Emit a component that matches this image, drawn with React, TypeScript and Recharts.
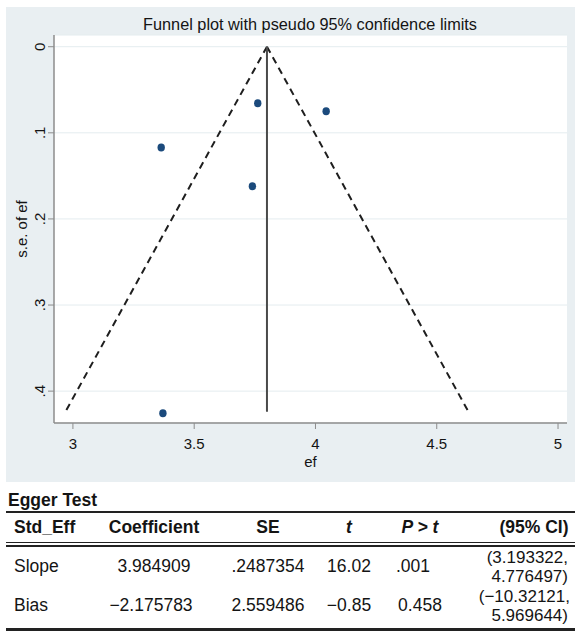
import React from 'react';
import { ScatterChart, Scatter, XAxis, YAxis, CartesianGrid, Label } from 'recharts';

// Study estimates (effect size and its standard error)
const studyEf = [3.762, 4.044, 3.364, 3.74, 3.371];
const studySe = [0.0657, 0.075, 0.117, 0.162, 0.4258];

// Pooled estimate and pseudo 95% confidence limits
const pooledEf = 3.8;
const funnelSe = [0, 0.424];
const funnelLeftEf = [3.8, 2.969];
const funnelRightEf = [3.8, 4.631];

// Axis ticks
const xTicks = [3, 3.5, 4, 4.5, 5];
const xTickLabels = ['3', '3.5', '4', '4.5', '5'];
const yTicks = [0, 0.1, 0.2, 0.3, 0.4];
const yTickLabels = ['0', '.1', '.2', '.3', '.4'];

// Egger test table
const tableTitle = 'Egger Test';
const tableHeaders = ['Std_Eff', 'Coefficient', 'SE', 't', 'P > t', '(95% CI)'];
const slopeRow = ['Slope', '3.984909', '.2487354', '16.02', '.001', '(3.193322,', '4.776497)'];
const biasRow = ['Bias', '\u22122.175783', '2.559486', '\u22120.85', '0.458', '(\u221210.32121,', '5.969644)'];

const points = studyEf.map((ef, i) => ({ ef, se: studySe[i] }));
const leftLine = funnelSe.map((se, i) => ({ ef: funnelLeftEf[i], se }));
const rightLine = funnelSe.map((se, i) => ({ ef: funnelRightEf[i], se }));
const midLine = funnelSe.map((se) => ({ ef: pooledEf, se }));

const FONT = '"Liberation Sans", Arial, Helvetica, sans-serif';
const TXT = '#141414';

const XTick = (props: any) => {
  const { x, payload } = props;
  const idx = xTicks.indexOf(payload.value);
  return (
    <text x={x} y={442} textAnchor="middle" fontSize={15} fontFamily={FONT} fill={TXT}>
      {idx >= 0 ? xTickLabels[idx] : String(payload.value)}
    </text>
  );
};

const YTick = (props: any) => {
  const { y, payload } = props;
  const idx = yTicks.findIndex((t) => Math.abs(t - payload.value) < 1e-9);
  return (
    <text
      x={0}
      y={0}
      transform={`translate(38.5,${y}) rotate(-90)`}
      textAnchor="middle"
      fontSize={15}
      fontFamily={FONT}
      fill={TXT}
    >
      {idx >= 0 ? yTickLabels[idx] : String(payload.value)}
    </text>
  );
};

const Dot = (props: any) => {
  const { cx, cy } = props;
  return <ellipse cx={cx} cy={cy} rx={3.7} ry={4} fill="#1B4A7C" />;
};

const NoShape = () => <g />;

const Cell = ({ x, y, text, align = 'center', bold = false, italic = false, size = 17.5 }: any) => {
  let transform = 'translateX(-50%)';
  if (align === 'left') transform = 'none';
  if (align === 'right') transform = 'translateX(-100%)';
  return (
    <div
      style={{
        position: 'absolute',
        left: x,
        top: y - size / 2,
        fontSize: size,
        lineHeight: `${size}px`,
        fontFamily: FONT,
        fontWeight: bold ? 700 : 400,
        fontStyle: italic ? 'italic' : 'normal',
        color: TXT,
        whiteSpace: 'nowrap',
        transform,
      }}
    >
      {text}
    </div>
  );
};

const Rule = ({ y, h }: any) => (
  <div style={{ position: 'absolute', left: 6, width: 569, top: y, height: h, background: '#222' }} />
);

export default function App() {
  const colX = [14, 154, 268, 349, 420, 568];
  return (
    <div style={{ position: 'absolute', left: 0, top: 0, width: 575, height: 633, background: '#fff', overflow: 'hidden' }}>
      <div style={{ position: 'absolute', left: 6, top: 7, width: 569, height: 475, background: '#E9EFF2' }} />
      <div
        style={{
          position: 'absolute',
          left: 310,
          top: 16,
          transform: 'translateX(-50%)',
          fontSize: 16.3,
          lineHeight: '16px',
          fontFamily: FONT,
          color: TXT,
          whiteSpace: 'nowrap',
        }}
      >
        Funnel plot with pseudo 95% confidence limits
      </div>
      <div style={{ position: 'absolute', left: 6, top: 7 }}>
        <ScatterChart width={569} height={475} margin={{ top: 28, right: 8, bottom: 0, left: 0 }}>
          <CartesianGrid horizontal vertical={false} stroke="#E4ECEF" fill="#FFFFFF" strokeWidth={1} />
          <XAxis
            type="number"
            dataKey="ef"
            domain={[2.922, 5.037]}
            ticks={xTicks}
            allowDataOverflow
            height={59}
            tick={<XTick />}
            tickSize={6}
            tickLine={{ stroke: '#8C8C8C' }}
            axisLine={{ stroke: '#8C8C8C', strokeWidth: 1.5 }}
          >
            <Label
              content={() => (
                <text x={304.5} y={460} textAnchor="middle" fontSize={15} fontFamily={FONT} fill={TXT}>
                  ef
                </text>
              )}
            />
          </XAxis>
          <YAxis
            type="number"
            dataKey="se"
            domain={[-0.0136, 0.437]}
            reversed
            ticks={yTicks}
            allowDataOverflow
            width={48}
            tick={<YTick />}
            tickSize={6}
            tickLine={{ stroke: '#8C8C8C' }}
            axisLine={{ stroke: '#8C8C8C', strokeWidth: 1.5 }}
          >
            <Label
              content={() => (
                <text
                  x={0}
                  y={0}
                  transform="translate(21,222) rotate(-90)"
                  textAnchor="middle"
                  fontSize={15}
                  fontFamily={FONT}
                  fill={TXT}
                >
                  s.e. of ef
                </text>
              )}
            />
          </YAxis>
          <Scatter
            data={leftLine}
            line={{ stroke: '#1e1e1e', strokeWidth: 2, strokeDasharray: '7 5' }}
            shape={<NoShape />}
            isAnimationActive={false}
          />
          <Scatter
            data={rightLine}
            line={{ stroke: '#1e1e1e', strokeWidth: 2, strokeDasharray: '7 5' }}
            shape={<NoShape />}
            isAnimationActive={false}
          />
          <Scatter
            data={midLine}
            line={{ stroke: '#4a4a4a', strokeWidth: 2 }}
            shape={<NoShape />}
            isAnimationActive={false}
          />
          <Scatter data={points} shape={<Dot />} isAnimationActive={false} />
        </ScatterChart>
      </div>

      <Cell x={8} y={501} text={tableTitle} align="left" bold />
      <Rule y={511} h={2} />
      <Cell x={colX[0]} y={528} text={tableHeaders[0]} align="left" bold />
      <Cell x={colX[1]} y={528} text={tableHeaders[1]} bold />
      <Cell x={colX[2]} y={528} text={tableHeaders[2]} bold />
      <Cell x={colX[3]} y={528} text={tableHeaders[3]} bold italic />
      <Cell x={colX[4]} y={528} text={tableHeaders[4]} bold italic />
      <Cell x={534} y={528} text={tableHeaders[5]} bold />
      <Rule y={542} h={1.2} />
      <Rule y={545} h={1.5} />

      <Cell x={colX[0]} y={567} text={slopeRow[0]} align="left" />
      <Cell x={colX[1]} y={567} text={slopeRow[1]} />
      <Cell x={colX[2]} y={567} text={slopeRow[2]} />
      <Cell x={colX[3]} y={567} text={slopeRow[3]} />
      <Cell x={413} y={567} text={slopeRow[4]} />
      <Cell x={colX[5]} y={557} text={slopeRow[5]} align="right" size={17} />
      <Cell x={colX[5]} y={576} text={slopeRow[6]} align="right" size={17} />

      <Cell x={colX[0]} y={606} text={biasRow[0]} align="left" />
      <Cell x={151} y={606} text={biasRow[1]} />
      <Cell x={colX[2]} y={606} text={biasRow[2]} />
      <Cell x={colX[3]} y={606} text={biasRow[3]} />
      <Cell x={colX[4]} y={606} text={biasRow[4]} />
      <Cell x={570} y={596} text={biasRow[5]} align="right" size={17} />
      <Cell x={colX[5]} y={615} text={biasRow[6]} align="right" size={17} />
      <Rule y={628} h={2.5} />
    </div>
  );
}
